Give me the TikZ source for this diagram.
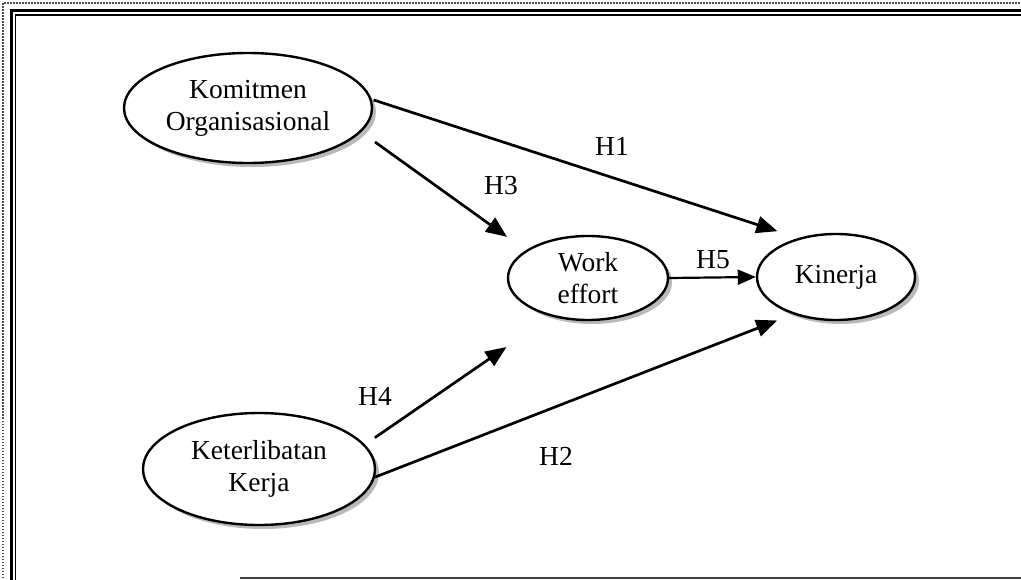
\documentclass[tikz,border=0pt]{standalone}
\usepackage{fontspec}
\setmainfont{Liberation Serif}
\usetikzlibrary{arrows.meta,shapes.geometric,shadows}
\tikzset{
  ell/.style={ellipse, draw, line width=2.4pt, fill=white, inner sep=0pt, align=center,
    font=\fontsize{27.5}{32}\selectfont,
    drop shadow={shadow xshift=4pt, shadow yshift=-4pt, fill=gray!55, opacity=1}},
  arr/.style={line width=2.7pt, -{Triangle[length=21pt,width=17pt]}},
  arrsmall/.style={line width=2.2pt, -{Triangle[length=18pt,width=15pt]}},
  lab/.style={inner sep=0pt, font=\fontsize{27.5}{32}\selectfont}
}
\begin{document}
\begin{tikzpicture}[x=1pt,y=-1pt]
\useasboundingbox (0,0) rectangle (1021,580);
\clip (0,0) rectangle (1021,580);
\fill[white] (0,0) rectangle (1021,580);
% frame
\draw[dash pattern=on 1.5pt off 1.5pt, line width=1.5pt, gray!60!black] (3,590) -- (3,3) -- (1030,3);
\draw[line width=3pt] (11,590) -- (11,10.5) -- (1030,10.5);
\draw[line width=1.5pt] (15.5,590) -- (15.5,15) -- (1030,15);
\draw[line width=2pt, gray!50!black] (240,578) -- (1030,578);
% nodes
\node[ell, minimum width=248pt, minimum height=110pt] (ko) at (248,108) {Komitmen\\Organisasional};
\node[ell, minimum width=160pt, minimum height=84pt] (we) at (588,278) {Work\\effort};
\node[ell, minimum width=158pt, minimum height=86pt] (ki) at (836,277) {Kinerja};
\node[ell, minimum width=232pt, minimum height=112pt] (ke) at (259,469) {Keterlibatan\\Kerja};
% connectors
\draw[arr, shorten <=2pt, shorten >=22pt] (ko.4.5) -- (ki.134.2);
\draw[arr, shorten <=17pt, shorten >=23pt] (ko.-12.9) -- (we.156.8);
\draw[arrsmall] (we.east) -- (ki.west);
\draw[arr, shorten <=12pt, shorten >=54pt] (ke.13.6) -- (we.226.1);
\draw[arr, shorten >=17pt] (ke.-4.5) -- (ki.221.9);
% labels
\node[lab] (h1) at (612,146) {H1};
\node[lab] (h3) at (501,186) {H3};
\node[lab] (h5) at (713,260) {H5};
\node[lab] (h4) at (375,396) {H4};
\node[lab] (h2) at (556,456) {H2};
\end{tikzpicture}
\end{document}
